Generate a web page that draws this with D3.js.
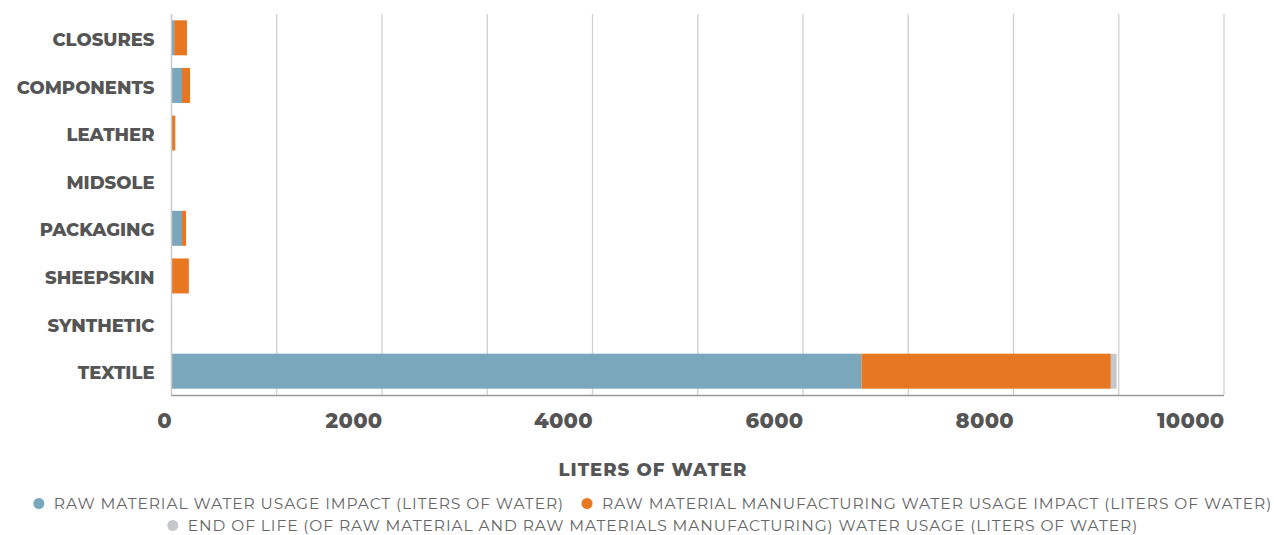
<!DOCTYPE html>
<html><head><meta charset="utf-8">
<script src="https://cdn.jsdelivr.net/npm/d3@7"></script>
<style>body{margin:0;background:#fff}</style>
</head><body>
<svg id="c" width="1274" height="535"></svg>
<script>
const categories = ["CLOSURES","COMPONENTS","LEATHER","MIDSOLE","PACKAGING","SHEEPSKIN","SYNTHETIC","TEXTILE"];
const rawMaterial = [25, 100, 0, 0, 100, 0, 0, 6555];
const manufacturing = [122, 76, 36, 2, 38, 165, 5, 2370];
const endOfLife = [1, 1, 0, 0, 1, 3, 0, 55];
const seriesNames = ["RAW MATERIAL WATER USAGE IMPACT (LITERS OF WATER)","RAW MATERIAL MANUFACTURING WATER USAGE IMPACT (LITERS OF WATER)","END OF LIFE (OF RAW MATERIAL AND RAW MATERIALS MANUFACTURING) WATER USAGE (LITERS OF WATER)"];
const colors = ["#7ba7bc","#e87722","#c6c7cb"];
const xTicks = [0,2000,4000,6000,8000,10000];

const svg = d3.select("#c");
const m = {left:171.5, right:1224, top:14, bottom:395};
const x = d3.scaleLinear().domain([0,10000]).range([m.left, m.right]);
const y = d3.scaleBand().domain(categories).range([m.top, m.bottom]).paddingInner(0.265).paddingOuter(0.1325);

// gridlines
svg.append("g").selectAll("line").data(d3.range(1000,10001,1000)).join("line")
  .attr("x1",d=>x(d)).attr("x2",d=>x(d)).attr("y1",m.top).attr("y2",m.bottom)
  .attr("stroke","#d0d0d0").attr("stroke-width",1.3);

const data = categories.map((c,i)=>({cat:c, s0:rawMaterial[i], s1:manufacturing[i], s2:endOfLife[i]}));
const stack = d3.stack().keys(["s0","s1","s2"])(data);
svg.append("g").selectAll("g").data(stack).join("g").attr("fill",(d,i)=>colors[i])
  .selectAll("rect").data(d=>d).join("rect")
  .attr("x",d=>x(d[0])).attr("width",d=>x(d[1])-x(d[0]))
  .attr("y",d=>y(d.data.cat)).attr("height",y.bandwidth());

// y axis line
svg.append("line").attr("x1",m.left).attr("x2",m.left).attr("y1",m.top).attr("y2",m.bottom+1).attr("stroke","#c8c8c8").attr("stroke-width",1.5);
// x axis line
svg.append("line").attr("x1",m.left).attr("x2",m.right).attr("y1",m.bottom+0.5).attr("y2",m.bottom+0.5).attr("stroke","#999").attr("stroke-width",1.5);

const font = "'Montserrat','Open Sans','DejaVu Sans',sans-serif";
// y labels
const ya = svg.append("g").attr("transform",`translate(${m.left},0)`).call(d3.axisLeft(y).tickSize(0).tickPadding(17));
ya.select(".domain").remove();
ya.selectAll("text").attr("font-family",font).attr("font-weight",800).attr("font-size",18).attr("fill","#555").attr("dy","0.45em");

// x labels
const xa = svg.append("g").attr("transform",`translate(0,${m.bottom})`).call(d3.axisBottom(x).tickValues(xTicks).tickSize(0).tickPadding(18).tickFormat(d3.format("d")));
xa.select(".domain").remove();
xa.selectAll("text").attr("font-family",font).attr("font-weight",800).attr("font-size",21).attr("letter-spacing",0.3).attr("fill","#555")
  .attr("text-anchor","end");

svg.append("text").attr("x",653).attr("y",476).attr("text-anchor","middle")
  .attr("font-family",font).attr("font-weight",800).attr("font-size",18).attr("letter-spacing",1).attr("fill","#555").text("LITERS OF WATER");

// legend
const lg = svg.append("g").attr("font-family",font).attr("font-size",15.5).attr("letter-spacing",0.9).attr("fill","#666");
const rows = [[0,1],[2]];
const rowY = [509, 531];
rows.forEach((r,ri)=>{
  const g = lg.append("g");
  let cx = 0;
  r.forEach(i=>{
    const it = g.append("g").attr("transform",`translate(${cx},0)`);
    it.append("circle").attr("cx",5).attr("cy",-5.5).attr("r",5.5).attr("fill",colors[i]);
    const t = it.append("text").attr("x",20).attr("y",0).text(seriesNames[i]);
    cx += 20 + t.node().getComputedTextLength() + 18;
  });
  const w = cx - 18;
  g.attr("transform",`translate(${653 - w/2},${rowY[ri]})`);
});
</script>
</body></html>
